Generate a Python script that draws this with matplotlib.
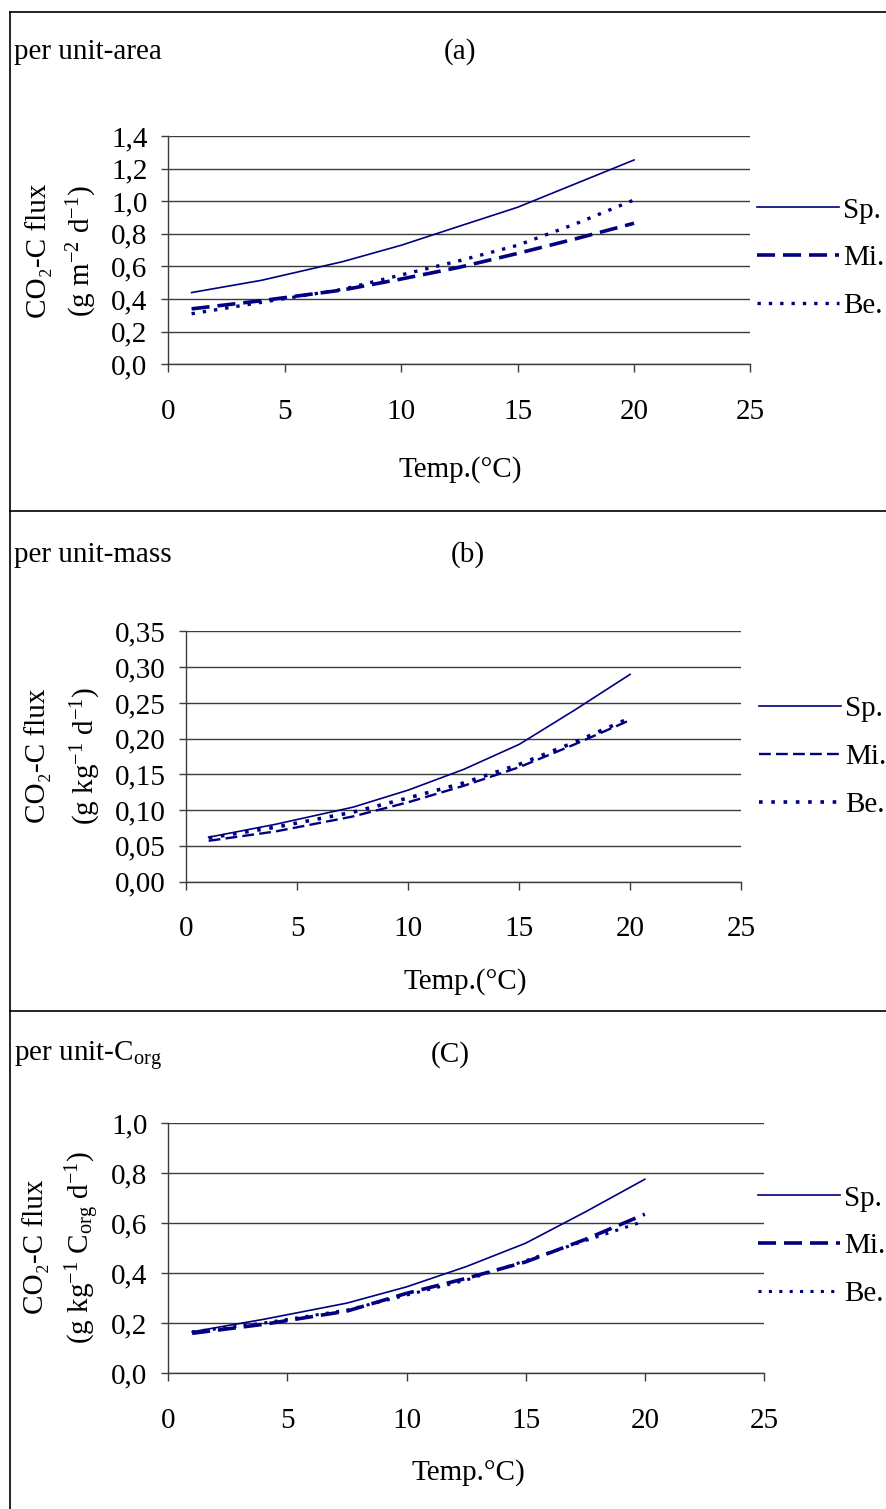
import matplotlib
matplotlib.use("Agg")
import matplotlib.pyplot as plt
from matplotlib.lines import Line2D
from matplotlib.ticker import FuncFormatter, MultipleLocator

FS = 21
plt.rcParams['font.family'] = ['Liberation Serif', 'DejaVu Serif']
plt.rcParams['mathtext.fontset'] = 'custom'
plt.rcParams['mathtext.rm'] = 'Liberation Serif'
plt.rcParams['mathtext.default'] = 'regular'
plt.rcParams['font.size'] = FS

# data
temps = [1, 4, 7.5, 10, 12.5, 15, 17.5, 20]
labels = ['Sp.', 'Mi.', 'Be.']

area_sp = [0.44, 0.515, 0.63, 0.73, 0.847, 0.963, 1.108, 1.253]
area_mi = [0.34, 0.39, 0.456, 0.523, 0.595, 0.68, 0.77, 0.865]
area_be = [0.31, 0.38, 0.46, 0.548, 0.635, 0.73, 0.862, 1.008]

mass_sp = [0.062, 0.080, 0.104, 0.128, 0.157, 0.192, 0.240, 0.290]
mass_mi = [0.057, 0.070, 0.091, 0.111, 0.134, 0.160, 0.192, 0.226]
mass_be = [0.061, 0.076, 0.097, 0.117, 0.138, 0.164, 0.195, 0.229]

corg_sp = [0.165, 0.215, 0.280, 0.345, 0.426, 0.520, 0.645, 0.776]
corg_mi = [0.159, 0.195, 0.248, 0.319, 0.379, 0.445, 0.535, 0.636]
corg_be = [0.165, 0.200, 0.252, 0.312, 0.372, 0.450, 0.530, 0.609]

x_ticks = [0, 5, 10, 15, 20, 25]

W, H = 887, 1509
NAVY = '#000080'
GRID = '#3c3c3c'


def fx(px):
    return px / W


def fy(py):
    return 1 - py / H


def comma_fmt(decimals):
    return FuncFormatter(lambda v, pos: f"{v:.{decimals}f}".replace('.', ','))


fig = plt.figure(figsize=(W / 100, H / 100), dpi=100)

# panel layout in pixels: left, right, top, bottom of the plot area
panels = [
    dict(box=(168.3, 750.5, 136.0, 364.3), ymax=1.4, ystep=0.2, dec=1,
         series=(area_sp, area_mi, area_be),
         title='per unit-area', tag='(a)', tag_x=460, title_y=52,
         ylab2=r'(g m$^{-2}$ d$^{-1}$)', ylab_y=251, ylab_x=(39, 82),
         xlab='Temp.(°C)', xlab_x=460, xlab_y=470,
         leg=(757, 258), mi_lw=2.6, be_lw=2.4),
    dict(box=(186.5, 741.0, 631.5, 881.5), ymax=0.35, ystep=0.05, dec=2,
         series=(mass_sp, mass_mi, mass_be),
         title='per unit-mass', tag='(b)', tag_x=468, title_y=555,
         ylab2=r'(g kg$^{-1}$ d$^{-1}$)', ylab_y=756, ylab_x=(38, 86),
         xlab='Temp.(°C)', xlab_x=465, xlab_y=982,
         leg=(759, 757), mi_lw=1.7, be_lw=2.6),
    dict(box=(168.3, 764.0, 1123.3, 1373.0), ymax=1.0, ystep=0.2, dec=1,
         series=(corg_sp, corg_mi, corg_be),
         title=r'per unit-C$_{org}$', tag='(C)', tag_x=450, title_y=1055,
         ylab2=r'(g kg$^{-1}$ C$_{org}$ d$^{-1}$)', ylab_y=1247, ylab_x=(36, 83),
         xlab='Temp.°C)', xlab_x=468, xlab_y=1473,
         leg=(758, 1246), mi_lw=2.6, be_lw=2.2),
]

for p in panels:
    l, r, t, b = p['box']
    ax = fig.add_axes([fx(l), fy(b), (r - l) / W, (b - t) / H])
    sp, mi, be = p['series']
    ax.plot(temps, sp, color=NAVY, lw=1.2, label=labels[0])
    ax.plot(temps, mi, color=NAVY, lw=p['mi_lw'], dashes=(5, 2.2), label=labels[1])
    ax.plot(temps, be, color=NAVY, lw=p['be_lw'], dashes=(1, 2.4), label=labels[2])

    ax.set_xlim(0, 25)
    ax.set_ylim(0, p['ymax'])
    ax.set_xticks(x_ticks)
    ax.yaxis.set_major_locator(MultipleLocator(p['ystep']))
    ax.yaxis.set_major_formatter(comma_fmt(p['dec']))
    ax.yaxis.grid(True, color=GRID, lw=1.0)
    ax.set_axisbelow(True)
    for s in ('top', 'right'):
        ax.spines[s].set_visible(False)
    for s in ('left', 'bottom'):
        ax.spines[s].set_color(GRID)
        ax.spines[s].set_linewidth(1.0)
    ax.tick_params(axis='x', direction='out', length=6, width=1, color=GRID, pad=19, labelsize=FS)
    ax.tick_params(axis='y', direction='out', length=5, width=1, color=GRID, pad=10, labelsize=FS)

    ax.legend(loc='center left', bbox_to_anchor=(fx(p['leg'][0]), fy(p['leg'][1])),
              bbox_transform=fig.transFigure, frameon=False, handlelength=2.8,
              handletextpad=0.15, labelspacing=0.73, borderpad=0, borderaxespad=0,
              fontsize=FS)

    fig.text(fx(14), fy(p['title_y']), p['title'], ha='left', va='center', fontsize=FS)
    fig.text(fx(p['tag_x']), fy(p['title_y']), p['tag'], ha='center', va='center', fontsize=FS)
    fig.text(fx(p['xlab_x']), fy(p['xlab_y']), p['xlab'], ha='center', va='center', fontsize=FS)
    fig.text(fx(p['ylab_x'][0]), fy(p['ylab_y']), 'CO₂-C flux', rotation=90,
             ha='center', va='center', fontsize=FS)
    fig.text(fx(p['ylab_x'][1]), fy(p['ylab_y']), p['ylab2'], rotation=90,
             ha='center', va='center', fontsize=FS)

# frame lines around the panels
frame = dict(color='black', lw=1.2, transform=fig.transFigure)
fig.add_artist(Line2D([fx(10), fx(10)], [fy(12), 0], **frame))
for yy in (12, 511, 1011):
    fig.add_artist(Line2D([fx(10), 1], [fy(yy), fy(yy)], **frame))

fig.savefig('out.png', dpi=100)
